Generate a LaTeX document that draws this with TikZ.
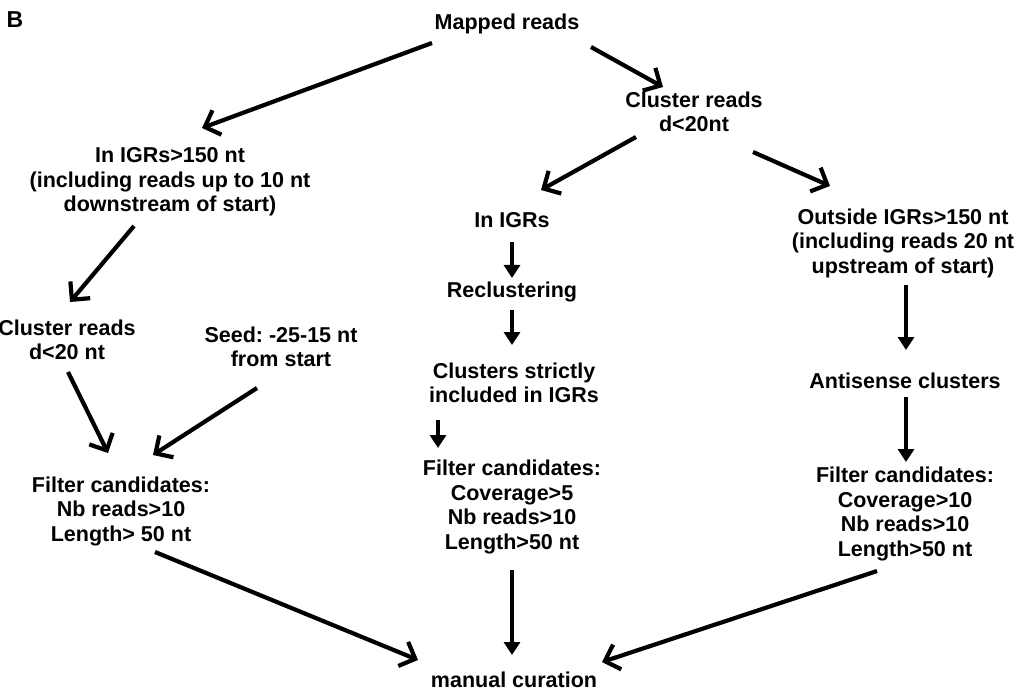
\documentclass[tikz,border=0pt]{standalone}
\usepackage{fontspec}
\setmainfont{Liberation Sans}
\usetikzlibrary{arrows.meta,calc}
\frenchspacing
\begin{document}
\begin{tikzpicture}[x=1pt,y=-1pt,
  lbl/.style={font=\fontsize{21.5}{24.5}\selectfont\bfseries\frenchspacing, align=center, inner sep=0pt},
  arrO/.style={line width=4.2pt, -{Straight Barb[length=13pt,width=26pt]}},
  arrF/.style={line width=4pt, -{Triangle[length=13pt,width=16pt]}}]
\fill[white] (0,0) rectangle (1024,692);
\useasboundingbox (0,0) rectangle (1024,692);

\node[lbl, font=\fontsize{23}{26}\selectfont\bfseries] (B) at (15,20) {B};
\node[lbl] (mapped) at (507,24) {Mapped reads};
\node[lbl] (clustop) at (694,112) {Cluster reads\\d<20nt};
\node[lbl] (igr) at (170,182) {In IGRs>150 nt\\(including reads up to 10 nt\\downstream of start)};
\node[lbl] (inigr) at (512,220) {In IGRs};
\node[lbl] (outside) at (903,243) {Outside IGRs>150 nt\\(including reads 20 nt\\upstream of start)};
\node[lbl] (recl) at (512,292) {Reclustering};
\node[lbl] (clstr) at (514,383) {Clusters strictly\\included in IGRs};
\node[lbl] (antis) at (905,381) {Antisense clusters};
\node[lbl] (clleft) at (67,340) {Cluster reads\\d<20 nt};
\node[lbl] (seed) at (281,347) {Seed: -25-15 nt\\from start};
\node[lbl] (filtL) at (121,511) {Filter candidates:\\Nb reads>10\\Length> 50 nt};
\node[lbl] (filtM) at (512,507) {Filter candidates:\\Coverage>5\\Nb reads>10\\Length>50 nt};
\node[lbl] (filtR) at (905,514) {Filter candidates:\\Coverage>10\\Nb reads>10\\Length>50 nt};
\node[lbl] (manual) at (514,680) {manual curation};

% open-head (diagonal) connectors
\draw[arrO] ($(mapped)+(-75,19)$) -- ($(igr)+(32,-54)$);
\draw[arrO] ($(mapped)+(84,23)$) -- ($(clustop)+(-31,-25)$);
\draw[arrO] ($(clustop)+(-58,25)$) -- ($(inigr)+(29,-30)$);
\draw[arrO] ($(clustop)+(59,40)$) -- ($(outside)+(-73,-57)$);
\draw[arrO] ($(igr)+(-36,44)$) -- ($(clleft)+(3,-38)$);
\draw[arrO] ($(clleft)+(1,32)$) -- ($(filtL)+(-13,-58)$);
\draw[arrO] ($(seed)+(-24,41)$) -- ($(filtL)+(32,-56)$);
\draw[arrO] ($(filtL)+(34,41)$) -- ($(manual)+(-96,-20)$);
\draw[arrO] ($(filtR)+(-28,57)$) -- ($(manual)+(88,-18)$);

% filled-head (vertical) connectors
\draw[arrF] ($(inigr)+(0,22)$) -- ($(recl)+(0,-14)$);
\draw[arrF] ($(recl)+(0,18)$) -- ($(clstr)+(-2,-38)$);
\draw[arrF] ($(clstr)+(-76,37)$) -- ($(filtM)+(-74,-59)$);
\draw[arrF] ($(filtM)+(0,63)$) -- ($(manual)+(-2,-25)$);
\draw[arrF] ($(outside)+(3,42)$) -- ($(antis)+(1,-31)$);
\draw[arrF] ($(antis)+(1,16)$) -- ($(filtR)+(1,-52)$);
\end{tikzpicture}
\end{document}
